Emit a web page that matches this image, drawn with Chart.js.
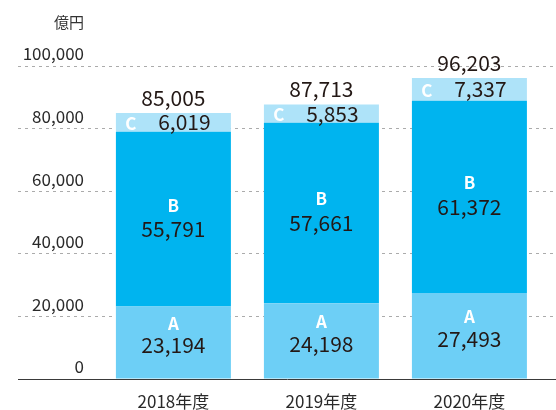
<!DOCTYPE html>
<html>
<head>
<meta charset="utf-8">
<script src="https://cdn.jsdelivr.net/npm/chart.js@4"></script>
<style>
  body { margin: 0; background: #fff; }
</style>
</head>
<body>
<canvas id="chart" width="556" height="410"></canvas>
<script>
// データ
const categories = ['2018年度', '2019年度', '2020年度'];
const seriesNames = ['A', 'B', 'C'];
const seriesA = [23194, 24198, 27493];
const seriesB = [55791, 57661, 61372];
const seriesC = [6019, 5853, 7337];
const totals = [85005, 87713, 96203];
const yTicks = [0, 20000, 40000, 60000, 80000, 100000];
const unitLabel = '億円';

const FONT = '"Noto Sans CJK JP", "Noto Sans", sans-serif';
const colors = ['#6dcff6', '#00b4ef', '#aee3f9'];

// 目盛ラベルの幅を測って右端を x=84 に合わせる
const mctx = document.createElement('canvas').getContext('2d');
mctx.font = '17px ' + FONT;
const widest = mctx.measureText('100,000').width;
const tickPad = 66 - widest;

const toPoints = (arr) => arr.map((v, i) => ({ x: i, y: v }));

// セグメント内ラベル・合計・単位
const labelPlugin = {
  id: 'segLabels',
  afterDatasetsDraw(chart) {
    const ctx = chart.ctx;
    ctx.save();
    ctx.textBaseline = 'middle';
    ctx.textAlign = 'center';
    const offsets = [[-19, 3], [-14, 10]];
    chart.data.datasets.forEach((ds, di) => {
      const meta = chart.getDatasetMeta(di);
      meta.data.forEach((bar, i) => {
        const mid = (bar.y + bar.base) / 2;
        const value = ds.data[i].y.toLocaleString('en-US');
        ctx.fillStyle = '#ffffff';
        ctx.font = 'bold 17px ' + FONT;
        if (di < 2) {
          ctx.fillText(seriesNames[di], bar.x, mid + offsets[di][0]);
          ctx.fillStyle = '#231815';
          ctx.font = '21px ' + FONT;
          ctx.fillText(value, bar.x, mid + offsets[di][1]);
        } else {
          ctx.fillText(seriesNames[di], bar.x - bar.width / 2 + 15, mid + 1);
          ctx.fillStyle = '#231815';
          ctx.font = '21px ' + FONT;
          ctx.fillText(value, bar.x + 11, mid);
          // 合計
          ctx.fillText(totals[i].toLocaleString('en-US'), bar.x, bar.y - 15);
        }
      });
    });
    const yScale = chart.scales.y;
    ctx.textAlign = 'right';
    ctx.fillStyle = '#333';
    ctx.font = '15px ' + FONT;
    ctx.fillText(unitLabel, yScale.right + tickPad + widest, 22);
    ctx.restore();
  }
};

const ctx = document.getElementById('chart').getContext('2d');
new Chart(ctx, {
  type: 'bar',
  data: {
    datasets: [
      { label: 'A', data: toPoints(seriesA), backgroundColor: colors[0] },
      { label: 'B', data: toPoints(seriesB), backgroundColor: colors[1] },
      { label: 'C', data: toPoints(seriesC), backgroundColor: colors[2] }
    ]
  },
  options: {
    responsive: false,
    animation: false,
    layout: { padding: { left: 0, top: 66, right: 0, bottom: 0 } },
    datasets: { bar: { categoryPercentage: 1, barPercentage: 0.777 } },
    scales: {
      x: {
        type: 'linear',
        stacked: true,
        offset: false,
        min: -1.05,
        max: 2.585,
        afterBuildTicks: (axis) => {
          axis.ticks = categories.map((c, i) => ({ value: i }));
        },
        afterFit: (axis) => {
          axis.height = 31;
          axis.paddingLeft = 0;
          axis.paddingRight = 0;
        },
        ticks: {
          autoSkip: false,
          maxRotation: 0,
          padding: 12,
          color: '#2a2a2a',
          font: { family: FONT, size: 17 },
          callback: (v) => categories[v]
        },
        grid: { display: false, drawTicks: false },
        border: { display: true, color: '#3a3a3a', width: 1 }
      },
      y: {
        stacked: true,
        min: 0,
        max: 100000,
        afterBuildTicks: (axis) => {
          axis.ticks = yTicks.map((v) => ({ value: v }));
        },
        afterFit: (axis) => {
          axis.width = 18;
          axis.paddingTop = 0;
          axis.paddingBottom = 0;
        },
        ticks: {
          mirror: true,
          crossAlign: 'far',
          padding: tickPad,
          labelOffset: -12,
          color: '#2a2a2a',
          font: { family: FONT, size: 17 },
          callback: (v) => v.toLocaleString('en-US')
        },
        grid: {
          drawTicks: false,
          color: '#ababab',
          lineWidth: 1
        },
        border: { display: false, dash: [3, 4] }
      }
    },
    plugins: {
      legend: { display: false },
      tooltip: { enabled: false }
    }
  },
  plugins: [labelPlugin]
});
</script>
</body>
</html>
